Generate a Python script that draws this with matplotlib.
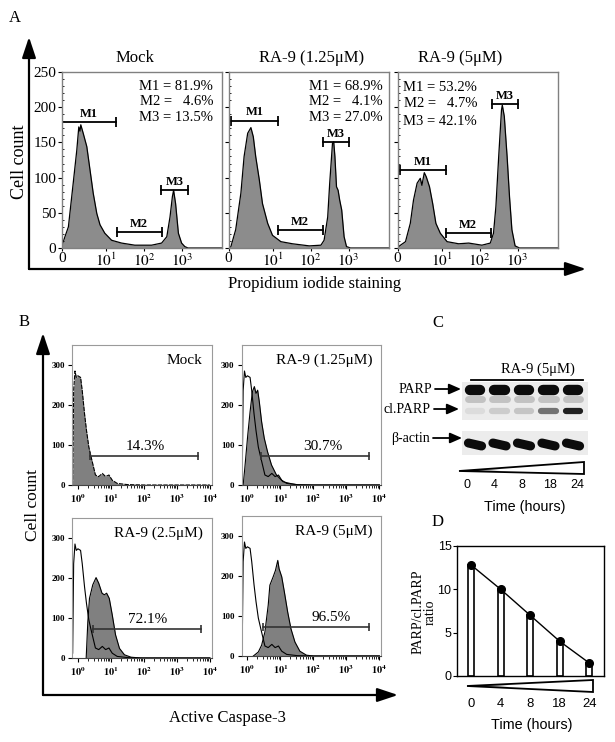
import numpy as np
import matplotlib
matplotlib.use('Agg')
import matplotlib.pyplot as plt
from matplotlib import font_manager
from matplotlib.patches import Polygon, Rectangle

names = {f.name for f in font_manager.fontManager.ttflist}
narrow = 'Liberation Sans Narrow' if 'Liberation Sans Narrow' in names else 'Liberation Sans'
nscale = 1.0 if narrow == 'Liberation Sans Narrow' else 0.86
plt.rcParams['font.family'] = ['Liberation Serif', 'DejaVu Serif']
plt.rcParams['mathtext.fontset'] = 'stix'

W, H = 615, 742

# ---------------- panel A: PI histograms (x in decades) ----------------
a_titles = ['Mock', 'RA-9 (1.25μM)', 'RA-9 (5μM)']
a_stats = [['M1 = 81.9%', 'M2 =   4.6%', 'M3 = 13.5%'],
           ['M1 = 68.9%', 'M2 =   4.1%', 'M3 = 27.0%'],
           ['M1 = 53.2%', 'M2 =   4.7%', 'M3 = 42.1%']]
mock_x = [0, 0.16, 0.28, 0.37, 0.42, 0.45, 0.47, 0.53, 0.62, 0.7, 0.78, 0.87, 0.95, 1.07, 1.24,
          1.49, 1.82, 2.24, 2.49, 2.62, 2.7, 2.76, 2.79, 2.84, 2.91, 2.99, 3.07, 3.15, 4.0]
mock_y = [4, 30, 92, 139, 172, 166, 175, 163, 144, 111, 78, 49, 33, 21, 11,
          7, 4, 4, 7, 16, 44, 73, 82, 63, 21, 7, 2, 0, 0]
ra125_x = [0, 0.06, 0.18, 0.31, 0.39, 0.48, 0.56, 0.62, 0.68, 0.77, 0.85, 0.98, 1.1, 1.31, 1.6,
           2.02, 2.31, 2.39, 2.48, 2.53, 2.6, 2.63, 2.66, 2.7, 2.74, 2.78, 2.83, 2.89, 2.95, 3.05, 4.0]
ra125_y = [0, 2, 26, 78, 130, 163, 171, 158, 130, 97, 63, 35, 18, 9, 6,
           3, 4, 11, 44, 92, 149, 151, 130, 87, 82, 68, 54, 16, 2, 0, 0]
ra5_x = [0.0, 0.05, 0.2, 0.32, 0.4, 0.49, 0.57, 0.61, 0.67, 0.72, 0.8, 0.88, 0.96, 1.07, 1.24,
         1.53, 1.78, 2.11, 2.32, 2.4, 2.46, 2.53, 2.6, 2.62, 2.67, 2.74, 2.8, 2.86, 2.94, 3.05, 4.0]
ra5_y = [0, 3, 9, 35, 68, 92, 99, 89, 107, 101, 87, 63, 35, 21, 9,
         6, 7, 4, 7, 21, 59, 130, 196, 203, 187, 130, 73, 26, 3, 0, 0]
a_curves = [(mock_x, mock_y), (ra125_x, ra125_y), (ra5_x, ra5_y)]
# gates: (label, start, end, height)
a_gates = [[('M1', 0.01, 1.34, 179), ('M2', 1.37, 2.49, 23), ('M3', 2.48, 3.16, 82)],
           [('M1', 0.06, 1.23, 181), ('M2', 1.23, 2.35, 26), ('M3', 2.35, 3.02, 151)],
           [('M1', 0.05, 1.20, 111), ('M2', 1.20, 2.33, 21), ('M3', 2.36, 3.01, 205)]]
a_xticks = [0, 1.1, 2.05, 3.0]
a_xlabels = ['0', '$10^1$', '$10^2$', '$10^3$']

# ---------------- panel B: active caspase-3 (x in decades) ----------------
b_titles = ['Mock', 'RA-9 (1.25μM)', 'RA-9 (2.5μM)', 'RA-9 (5μM)']
ctrl_x = [-0.2, -0.16, -0.13, -0.09, -0.05, 0.0, 0.08, 0.13, 0.2, 0.26, 0.33, 0.4, 0.53, 0.63,
          0.74, 0.84, 0.94, 1.04, 1.19, 1.5, 2.0, 4.0]
ctrl_y = [0, 12, 236, 285, 269, 273, 269, 236, 178, 136, 95, 70, 25, 21,
          29, 21, 25, 12, 4, 1, 0, 0]
b125_x = [-0.13, -0.08, 0.01, 0.08, 0.15, 0.21, 0.26, 0.31, 0.36, 0.43, 0.51, 0.61, 0.73, 0.88,
          1.08, 1.34, 1.55, 4.0]
b125_y = [0, 42, 125, 183, 233, 246, 229, 237, 208, 158, 117, 83, 50, 25, 8, 3, 0, 0]
b25_x = [0.25, 0.3, 0.35, 0.45, 0.55, 0.63, 0.73, 0.8, 0.87, 0.95, 1.04, 1.14, 1.26, 1.41, 1.61,
         1.9, 4.0]
b25_y = [0, 91, 149, 183, 201, 187, 162, 158, 162, 149, 108, 58, 24, 8, 2, 0, 0]
b5_x = [0.18, 0.33, 0.43, 0.53, 0.63, 0.68, 0.78, 0.85, 0.92, 0.96, 1.04, 1.12, 1.22, 1.32, 1.44,
        1.59, 1.79, 2.0, 4.0]
b5_y = [0, 10, 27, 60, 127, 177, 198, 214, 239, 218, 198, 160, 110, 68, 35, 12, 2, 0, 0]
b_curves = [(ctrl_x, ctrl_y), (b125_x, b125_y), (b25_x, b25_y), (b5_x, b5_y)]
b_pct = ['14.3%', '30.7%', '72.1%', '96.5%']
b_gates = [(0.38, 3.64, 73), (0.41, 3.68, 73), (0.47, 3.73, 72), (0.48, 3.69, 73)]
b_pct_x = [2.05, 2.28, 2.12, 2.55]

# ---------------- panel C: western blot band intensities ----------------
times = ['0', '4', '8', '18', '24']
parp = [1.0, 1.0, 1.0, 1.0, 1.0]
cl_parp = [0.15, 0.22, 0.25, 0.6, 0.95]
actin = [1.0, 1.0, 1.0, 1.0, 1.0]

# ---------------- panel D: PARP / cl.PARP ratio ----------------
ratio = [12.8, 10.0, 7.0, 4.0, 1.5]


def rect(l, t, r, b):
    return [l / W, 1 - b / H, (r - l) / W, (b - t) / H]


fig = plt.figure(figsize=(W / 100, H / 100), dpi=100)
ov = fig.add_axes([0, 0, 1, 1])
ov.axis('off')


def arrow(ax, x0, y0, x1, y1, lw=1.6, ms=14, head='-|>,head_length=0.9,head_width=0.3'):
    ax.annotate('', xy=(x1, y1), xytext=(x0, y0),
                arrowprops=dict(arrowstyle=head, color='black', lw=lw,
                                shrinkA=0, shrinkB=0, mutation_scale=ms))


def wedge(ax, x0, x1, yc, ytop, ybot):
    poly = Polygon([(x0, yc), (x1, ytop), (x1, ybot)], closed=True, fc='none', ec='none')
    ax.add_patch(poly)
    grad = np.clip(np.linspace(0, 3.0, 256), 0, 1)[None, :]
    im = ax.imshow(grad, cmap='gray', extent=(x0, x1, ybot, ytop), aspect='auto',
                   interpolation='bilinear', vmin=0, vmax=1)
    im.set_clip_path(poly)
    ax.add_patch(Polygon([(x0, yc), (x1, ytop), (x1, ybot)], closed=True,
                         fc='none', ec='black', lw=1.3))


# big axis arrows
arrow(ov, 29, 269, 29, 37)
arrow(ov, 29, 269, 586, 269)
arrow(ov, 43, 695, 43, 333)
arrow(ov, 43, 695, 398, 695)

ov.text(15, 18, 'A', fontsize=12, ha='center', va='center')
ov.text(24, 322, 'B', fontsize=12, ha='center', va='center')
ov.text(438, 323, 'C', fontsize=12, ha='center', va='center')
ov.text(438, 522, 'D', fontsize=12, ha='center', va='center')
ov.text(20, 162, 'Cell count', fontsize=13, rotation=90, ha='center', va='center')
ov.text(315, 284, 'Propidium iodide staining', fontsize=12, ha='center', va='center')
ov.text(33, 505, 'Cell count', fontsize=12.5, rotation=90, ha='center', va='center')
ov.text(227, 718, 'Active Caspase-3', fontsize=12, ha='center', va='center')
ov.text(424, 612, 'PARP/cl.PARP\nratio', fontsize=10, rotation=90, ha='center',
        va='center', linespacing=0.95)
ov.text(532, 725, 'Time (hours)', fontsize=12 * nscale, ha='center', va='center', family=narrow)

# wedges below blot and bar chart
wedge(ov, 459, 584, 471, 462, 474)
wedge(ov, 467, 593, 686, 680, 692)
ov.set_xlim(0, W)
ov.set_ylim(H, 0)

# ---------------- A ----------------
a_left = [62, 228.5, 397.5]
a_title_x = [135, 312, 460]
stat_pos = [(3.78, [229, 208, 185]), (3.86, [229, 208, 185]), (1.99, [228, 205, 179])]
for i, l in enumerate(a_left):
    ax = fig.add_axes(rect(l, 72, l + 160, 248))
    x, y = a_curves[i]
    ax.fill_between(x, y, color='#8c8c8c', lw=0)
    ax.plot(x, y, color='black', lw=0.9)
    for lab, g0, g1, gy in a_gates[i]:
        ax.plot([g0, g1], [gy, gy], color='black', lw=1.3, marker='|', ms=7, mew=1.3)
        ax.text((g0 + g1) / 2, gy + 3, lab, ha='center', va='bottom', fontsize=9,
                fontweight='bold')
    sx, sys_ = stat_pos[i]
    for s, sy in zip(a_stats[i], sys_):
        ax.text(sx, sy, s, ha='right', va='center', fontsize=10.5)
    ax.set_xlim(0, 4)
    ax.set_ylim(0, 250)
    ax.set_yticks(range(0, 251, 50))
    ax.set_yticks(range(0, 251, 10), minor=True)
    ax.set_xticks(a_xticks)
    ax.set_xticklabels(a_xlabels, fontsize=11)
    ax.tick_params(axis='x', length=2, pad=1)
    ax.tick_params(axis='y', which='major', length=3, labelsize=11, pad=1)
    ax.tick_params(axis='y', which='minor', length=1.5, direction='in')
    if i > 0:
        ax.set_yticklabels([])
    for sp in ax.spines.values():
        sp.set_color('#808080')
        sp.set_linewidth(1)
    ov.text(a_title_x[i], 58, a_titles[i], fontsize=12, ha='center', va='center')

# ---------------- B ----------------
b_rects = [(72, 345, 211.5, 485), (241.5, 345, 381, 485),
           (72, 518, 211.5, 658), (241.5, 516, 381, 656)]
minor = [d + np.log10(k) for d in range(4) for k in range(2, 10)]
for i, (l, t, r, b) in enumerate(b_rects):
    ax = fig.add_axes(rect(l, t, r, b))
    x, y = b_curves[i]
    ax.fill_between(x, y, color='#808080', lw=0)
    ax.plot(x, y, color='black', lw=0.8, ls=(0, (4, 1)) if i == 0 else '-')
    if i > 0:
        ax.plot(ctrl_x, ctrl_y, color='black', lw=0.8)
    g0, g1, gy = b_gates[i]
    ax.plot([g0, g1], [gy, gy], color='#333333', lw=1.2, marker='|', ms=6, mew=1.2)
    ax.text(b_pct_x[i], gy + 8, b_pct[i], ha='center', va='bottom', fontsize=11)
    ax.text(3.78, 312, b_titles[i], ha='right', va='center', fontsize=11)
    ax.set_xlim(-0.18, 4.05)
    ax.set_ylim(0, 350)
    ax.set_yticks([0, 100, 200, 300])
    ax.set_yticklabels(['0', '100', '200', '300'], fontsize=6.5, fontweight='bold')
    ax.set_xticks(range(5))
    ax.set_xticklabels([r'$\mathbf{10^%d}$' % k for k in range(5)], fontsize=7.5)
    ax.set_xticks(minor, minor=True)
    ax.tick_params(axis='both', which='major', length=3, width=0.8, pad=2)
    ax.tick_params(axis='x', which='minor', length=1.8, width=0.6)
    for sp in ax.spines.values():
        sp.set_color('#9a9a9a')
    ax.spines['bottom'].set_color('#444444')

# ---------------- C ----------------
axc = fig.add_axes(rect(400, 355, 600, 515))
axc.axis('off')
x0c, sp = 475, 24.5
axc.set_xlim((400 - x0c) / sp, (600 - x0c) / sp)
axc.set_ylim(515, 355)


def L(px):
    return (px - x0c) / sp


axc.add_patch(Rectangle((-0.55, 382), 5.15, 38, color='#ececec', lw=0))
axc.add_patch(Rectangle((-0.55, 431), 5.15, 24, color='#ececec', lw=0))
for i in range(len(times)):
    axc.plot([i - 0.3, i + 0.3], [399, 399], color=plt.cm.gray(0.72), lw=5,
             solid_capstyle='round', alpha=0.8)
    axc.plot([i - 0.22, i + 0.22], [390, 390], color=plt.cm.gray(1 - 0.95 * parp[i]), lw=7.5,
             solid_capstyle='round')
    axc.plot([i - 0.3, i + 0.3], [411, 411], color=plt.cm.gray(1 - 0.92 * cl_parp[i]), lw=4.5,
             solid_capstyle='round')
    axc.plot([i - 0.27, i + 0.27], [443, 446], color=plt.cm.gray(1 - 0.95 * actin[i]), lw=6.5,
             solid_capstyle='round')
axc.plot([L(471), L(583)], [380, 380], color='black', lw=1.3)
axc.text(L(538), 369, 'RA-9 (5μM)', ha='center', va='center', fontsize=10.5)
for lab, yy, xr, xa in [('PARP', 389, 432, 461), ('cl.PARP', 409, 431, 459),
                        ('β-actin', 438, 430, 462)]:
    axc.text(L(xr), yy, lab, ha='right', va='center', fontsize=10)
    arrow(axc, L(xr + 3), yy, L(xa), yy, lw=1.3, ms=9,
          head='-|>,head_length=0.8,head_width=0.35')
for xt, t in zip(np.linspace(L(467), L(577), len(times)), times):
    axc.text(xt, 485, t, ha='center', va='center', fontsize=10.5 * nscale, family=narrow)
axc.text(L(525), 507, 'Time (hours)', ha='center', va='center', fontsize=12 * nscale,
         family=narrow)

# ---------------- D ----------------
axd = fig.add_axes(rect(457, 546, 604, 676))
pos = np.arange(len(ratio))
axd.bar(pos, ratio, width=0.2, color='white', edgecolor='black', lw=1.2, zorder=2)
axd.plot(pos, ratio, color='black', lw=1, marker='o', ms=5.5, zorder=3)
axd.set_xlim(-0.48, 4.5)
axd.set_ylim(0, 15)
axd.set_yticks([0, 5, 10, 15])
axd.set_yticklabels(['0', '5', '10', '15'], family='Liberation Sans', fontsize=9)
axd.set_xticks(pos)
axd.set_xticklabels(times, family=narrow, fontsize=11 * nscale)
axd.tick_params(axis='x', length=0, pad=16)
axd.tick_params(axis='y', length=3, pad=1)
for s in axd.spines.values():
    s.set_linewidth(1)

fig.savefig('out.png', dpi=100)
